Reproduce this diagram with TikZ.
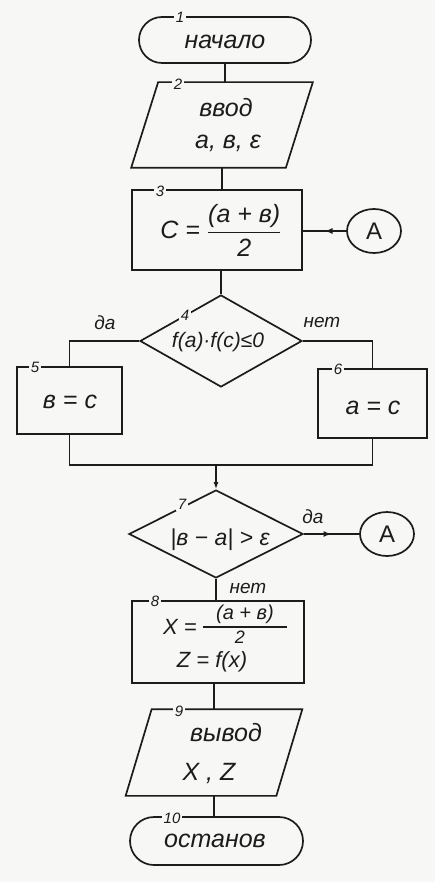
\documentclass[tikz,border=0pt]{standalone}
\usepackage{amsmath}
\usepackage{fontspec}
\setmainfont{Liberation Sans}
\usetikzlibrary{shapes.geometric,shapes.misc,arrows.meta,decorations.markings}
\definecolor{bg}{RGB}{247,247,245}
\definecolor{ink}{RGB}{28,28,28}
\newcommand{\myfr}[2]{\genfrac{}{}{1.2pt}{0}{\text{#1}}{\text{#2}}}
\begin{document}
\begin{tikzpicture}[x=1pt,y=-1pt,line width=1.7pt,color=ink,
  txt/.style={font=\fontsize{25}{28}\selectfont\itshape, inner sep=0},
  midtxt/.style={font=\fontsize{21}{24}\selectfont\itshape, inner sep=0},
  num/.style={font=\fontsize{15}{16}\selectfont\itshape, fill=bg, inner sep=1.5pt},
  lbl/.style={font=\fontsize{19}{20}\selectfont\itshape, inner sep=0},
  term/.style={draw, rounded rectangle, minimum width=172, minimum height=46, inner sep=0},
  iobox/.style={rectangle, inner sep=0},
  proc/.style={draw, rectangle, inner sep=0},
  dec/.style={draw, diamond, inner sep=0},
  conn/.style={draw, ellipse, minimum width=54, minimum height=44, inner sep=0,
    font=\fontsize{24}{24}\selectfont},
  midarrow/.style={postaction={decorate}, decoration={markings,
    mark=at position 0.5 with {\arrow{Latex[length=8pt,width=6pt]}}}}
]
\useasboundingbox[fill=bg] (0,0) rectangle (435,882);

% shapes
\node[term] (n1) at (225,40) {};
\node[iobox, minimum width=180, minimum height=84] (n2) at (222,125) {};
\draw (n2.south west) -- ([xshift=-27pt]n2.south east) -- (n2.north east)
  -- ([xshift=27pt]n2.north west) -- cycle;
\node[proc, minimum width=170, minimum height=80] (n3) at (217,230) {};
\node[dec, minimum width=162, minimum height=92] (n4) at (221,341) {};
\node[proc, minimum width=105, minimum height=67] (n5) at (69.5,400.5) {};
\node[proc, minimum width=109, minimum height=69] (n6) at (372.5,403.5) {};
\node[dec, minimum width=174, minimum height=88] (n7) at (216,534) {};
\node[proc, minimum width=172, minimum height=82] (n8) at (218,642) {};
\node[iobox, minimum width=175, minimum height=85] (n9) at (214,752.5) {};
\draw (n9.south west) -- ([xshift=-26pt]n9.south east) -- (n9.north east)
  -- ([xshift=26pt]n9.north west) -- cycle;
\node[term, minimum width=173, minimum height=48] (n10) at (216.5,841) {};
\node[conn] (A1) at (374,231) {A};
\node[conn] (A2) at (387,534) {A};

% connectors
\draw (n1.south) -- (n1.south |- n2.north);
\draw (n2.south) -- (n2.south |- n3.north);
\draw (n4.north |- n3.south) -- (n4.north);
\draw[midarrow] (A1.west) -- (A1.west -| n3.east);
\draw (n4.west) -| (n5.north);
\draw (n4.east) -| (n6.north);
\coordinate (m) at (216,465);
\draw (n5.south) |- (m) -| (n6.south);
\draw[-{Latex[length=7pt,width=5pt]}] (m) -- (m |- n7.north);
\draw[midarrow] (n7.east) -- (A2.west);
\draw (n7.south) -- (n7.south |- n8.north);
\draw (n9.north |- n8.south) -- (n9.north);
\draw (n9.south) -- (n9.south |- n10.north);

% texts
\node[txt] (t1) at (225,42) {начало};
\node[txt] (t2a) at (226,108) {ввод};
\node[txt] (t2b) at (228,143) {a, в, ε};
\node[txt] (t3) at (221,230) {C = $\myfr{(a + в)}{2}$};
\node[midtxt] (t4) at (218,342) {f(a)·f(c)≤0};
\node[txt] (t5) at (70,402) {в = c};
\node[txt] (t6) at (373,408) {a = c};
\node[txt, font=\fontsize{23}{24}\selectfont\itshape] (t7) at (220,540) {|в − a| > ε};
% box 8: X = (a+в)/2 , Z = f(x)
\node[midtxt, font=\fontsize{22}{24}\selectfont\itshape] (t8x) at (180,627) {X =};
\node[midtxt, font=\fontsize{20}{22}\selectfont\itshape] (t8n) at (245,614) {(a + в)};
\coordinate (b8l) at (203,627);
\coordinate (b8r) at (287,627);
\draw[line width=1.3pt] (b8l) -- (b8r);
\node[midtxt, font=\fontsize{18}{20}\selectfont\itshape] (t8d) at (240,637.5) {2};
\node[txt, font=\fontsize{22}{24}\selectfont\itshape] (t8b) at (212,661.5) {Z = f(x)};
\node[txt] (t9a) at (226,733) {вывод};
\node[txt] (t9b) at (209,773) {X , Z};
\node[txt] (t10) at (215,841) {останов};

% labels
\node[lbl] (l4y) at (105,323) {да};
\node[lbl] (l4n) at (322,322) {нет};
\node[lbl] (l7y) at (313,517) {да};
\node[lbl] (l7n) at (248,588) {нет};

% numbers
\node[num] at (180,17) {1};
\node[num] at (178,84) {2};
\node[num] at (160,191) {3};
\node[num] at (185,315) {4};
\node[num] at (35,367) {5};
\node[num] at (338,369) {6};
\node[num] at (182,504) {7};
\node[num] at (155,601) {8};
\node[num] at (179,711) {9};
\node[num] at (172,818) {10};
\end{tikzpicture}
\end{document}
